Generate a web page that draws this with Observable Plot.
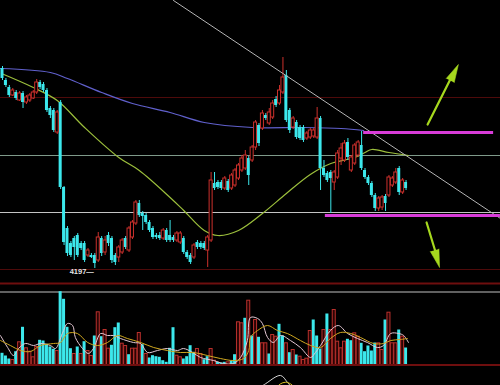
<!DOCTYPE html>
<html>
<head>
<meta charset="utf-8">
<script src="https://cdn.jsdelivr.net/npm/d3@7"></script>
<script src="https://cdn.jsdelivr.net/npm/@observablehq/plot@0.6"></script>
<style>
  html, body { margin: 0; padding: 0; background: #000; }
  #chart { width: 500px; height: 385px; overflow: hidden; background: #000; }
  #chart > div { overflow: hidden; }
  svg { display: block; }
</style>
</head>
<body>
<div id="chart"></div>
<script>
// ---- Candles (OHLC) ----
const open = [
  4397,4385,4378,4370,4373,4365,4372,4363,4365,4367,
  4373,4383,4381,4375,4357,4355,4333,4363,4278,4237,
  4222,4227,4230,4222,4222,4210,4210,4210,4205,4227,
  4213,4230,4227,4210,4208,4213,4227,4215,4228,4242,
  4262,4252,4250,4243,4237,4230,4230,4227,4235,4230,
  4228,4225,4223,4227,4213,4210,4208,4223,4222,4222,
  4215,4225,4282,4283,4283,4277,4284,4277,4280,4287,
  4295,4297,4307,4305,4318,4340,4337,4350,4342,4348,
  4366,4362,4373,4390,4355,4338,4343,4338,4338,4327,
  4328,4329,4328,4347,4297,4292,4293,4283,4288,4307,
  4305,4323,4295,4302,4310,4320,4295,4288,4282,4270,
  4257,4258,4269,4270,4280,4283,4297,4273,4283];
const high = [
  4399,4387,4380,4377,4375,4374,4374,4370,4372,4375,
  4386,4385,4383,4377,4359,4357,4355,4365,4279,4239,
  4224,4229,4232,4224,4224,4217,4212,4212,4233,4229,
  4229,4233,4229,4212,4220,4227,4229,4239,4245,4265,
  4265,4254,4252,4245,4239,4232,4233,4237,4237,4245,
  4230,4234,4234,4229,4215,4212,4222,4225,4224,4224,
  4230,4293,4293,4285,4285,4289,4286,4292,4297,4302,
  4310,4315,4309,4320,4345,4342,4355,4352,4357,4365,
  4369,4380,4408,4395,4357,4349,4345,4340,4340,4334,
  4337,4337,4358,4349,4305,4294,4295,4295,4315,4322,
  4325,4327,4310,4322,4325,4334,4297,4290,4284,4272,
  4269,4270,4271,4290,4289,4297,4299,4287,4285];
const low = [
  4385,4378,4368,4369,4365,4364,4357,4361,4363,4366,
  4371,4376,4373,4353,4347,4333,4331,4276,4220,4209,
  4208,4205,4208,4215,4203,4208,4207,4197,4203,4209,
  4210,4219,4202,4200,4203,4211,4216,4213,4226,4240,
  4248,4235,4241,4233,4226,4226,4225,4225,4223,4223,
  4223,4223,4221,4211,4206,4201,4206,4216,4216,4215,
  4198,4223,4275,4276,4275,4275,4273,4275,4278,4285,
  4293,4295,4280,4303,4315,4319,4335,4345,4340,4346,
  4358,4360,4371,4343,4332,4336,4326,4325,4323,4325,
  4326,4327,4326,4275,4288,4283,4252,4275,4286,4300,
  4303,4305,4293,4300,4308,4295,4286,4280,4268,4254,
  4254,4255,4254,4268,4278,4281,4270,4271,4275];
const close = [
  4387,4380,4370,4375,4367,4372,4363,4368,4370,4373,
  4383,4378,4375,4355,4350,4335,4353,4278,4223,4212,
  4210,4218,4210,4217,4205,4215,4208,4202,4228,4212,
  4225,4222,4205,4203,4218,4225,4218,4237,4243,4263,
  4250,4249,4243,4235,4228,4228,4227,4235,4225,4225,
  4225,4232,4232,4213,4208,4203,4220,4218,4218,4217,
  4228,4285,4277,4278,4277,4287,4275,4290,4295,4300,
  4307,4310,4290,4318,4343,4322,4352,4347,4353,4362,
  4360,4375,4388,4345,4335,4347,4328,4327,4325,4332,
  4335,4335,4347,4297,4290,4285,4287,4293,4312,4317,
  4322,4308,4308,4320,4323,4297,4288,4282,4270,4257,
  4267,4268,4262,4288,4287,4293,4273,4285,4277];

// ---- Price moving averages ----
const longMaIndex = [-0.6, 14, 19, 29, 38, 49, 59, 73, 88, 99, 105.6];
const longMaValue = [4397, 4393, 4387, 4373, 4362, 4353, 4343, 4338, 4338, 4337, 4335];
const midMaIndex = [-0.3, 9, 16, 24, 34, 40, 49, 53, 59, 63, 69, 76, 83, 90, 96, 103, 106, 108, 113, 118.7];
const midMaValue = [4392, 4378, 4365, 4338, 4308, 4295, 4268, 4255, 4235, 4230, 4235, 4252, 4272, 4291, 4302, 4308, 4313, 4316, 4313, 4310];

// ---- Horizontal levels & drawings ----
const darkLevels = [4368, 4196];
const panelBottom = [4182];
const greenLevel = [4310];
const grayLevel = [4253];
const magentaLines = [
  {x1: 105.6, x2: 143.6, y: 4333},
  {x1: 94.4, x2: 145.6, y: 4250}
];
const trendLine = [{i: 50, p: 4465}, {i: 145.6, p: 4247}];
const arrows = [
  {i1: 124.3, p1: 4341, i2: 131.8, p2: 4392},
  {i1: 124.0, p1: 4243, i2: 127.2, p2: 4207}
];
const arrowTips = [
  {i: 133.3, p: 4401, angle: 27},
  {i: 127.8, p: 4198, angle: 164}
];
const lowLabel = [{i: 27, p: 4197, text: "4197\u2014"}];

// ---- Volume ----
const volume = [
  1170,900,600,500,1330,2270,3770,1670,1330,770,
  1800,2470,2400,2070,1800,1570,1400,7330,6570,3770,
  1630,1100,1800,1100,2330,1400,900,2900,5270,2830,
  3500,1630,1970,3730,4200,2130,1900,1030,1630,1630,
  3200,2030,1100,700,930,830,770,430,270,1670,
  3730,930,770,600,830,1930,1270,1600,1100,530,
  830,1600,430,270,200,270,270,400,1030,4270,
  4170,4670,6430,2900,4500,2770,2170,2170,1100,3000,
  2830,4070,2900,2170,1230,1500,1000,830,500,630,
  3400,4500,2900,1600,3500,5100,3500,5500,2330,1670,
  2330,2570,2430,3170,2830,2170,1330,1900,1400,2200,
  2170,1500,4500,5230,2170,2170,3500,2830,1700];
const volumeUp = [
  0,0,0,1,0,1,0,1,1,1,
  1,0,0,0,0,0,1,0,0,0,
  0,1,0,1,0,1,1,0,1,0,
  1,1,0,0,0,1,1,0,1,1,
  1,0,1,0,0,0,0,0,0,0,
  0,1,1,0,0,0,0,1,1,0,
  0,1,1,0,0,0,1,0,0,1,
  1,0,1,0,1,0,1,1,0,1,
  1,0,0,1,0,1,0,1,1,1,
  1,0,0,0,1,0,1,1,1,1,
  1,0,0,1,1,0,0,0,0,0,
  1,1,0,1,1,1,0,1,0];
const volMa5Index = [-0.6,1.5,3.2,4.7,6.7,9.1,11.1,14.0,15.5,17.5,19.0,20.5,21.3,23.4,25.1,26.6,28.7,30.7,32.5,34.5,38.3,40.4,42.4,45.3,48.2,51.2,52.9,55.6,57.9,61.7,64.6,67.5,69.6,71.6,72.5,74.6,76.0,77.5,79.2,81.3,84.2,87.1,90.1,91.5,93.0,95.9,98.2,100.9,103.8,106.7,109.6,111.4,113.5,115.8,117.3,118.7];
const volMa5Value = [2950,1750,950,1650,2150,1950,2150,1950,1650,3150,4150,3950,2750,1650,1150,1650,3150,2950,2950,2650,2250,2150,1250,1450,1650,1450,1650,1250,750,450,150,150,750,2450,4750,4650,4150,2750,2250,2950,2450,1750,750,1250,1950,3450,3950,3150,2650,2250,1750,1950,3150,3150,2950,2250];
const volMa10Index = [-0.6,2.3,5.3,8.2,11.1,14.9,17.0,19.0,21.9,24.9,27.8,30.7,33.6,36.5,40.4,44.2,48.2,52.0,55.8,59.9,63.7,67.5,70.5,72.0,72.5,74.6,77.5,80.4,83.3,87.1,90.1,93.0,95.9,98.8,101.8,104.7,108.5,111.4,113.5,116.4,118.4];
const volMa10Value = [2450,1950,1450,1350,1950,2150,2250,3150,3150,2250,1950,2250,2950,2650,2250,1750,1450,1250,1250,950,650,450,650,1450,2750,3450,3950,3450,3150,2450,1950,1750,2650,3250,3150,2750,2150,2150,2450,2550,2650];
const volumeTop = [7300];

// ---- Lower indicator (partly visible) ----
const indWhiteIndex = [74.9, 76.9, 81.3, 83.3, 84.8];
const indWhiteValue = [-18, 10, 59, 19, -18];
const indYellowIndex = [79.8, 81.3, 82.7, 84.2, 85.7];
const indYellowValue = [-18, 10, 19, 10, -18];

// ---- build tables ----
const candles = open.map((o, i) => ({i, open: o, high: high[i], low: low[i], close: close[i], up: close[i] >= o}));
const upC = candles.filter(d => d.up);
const downC = candles.filter(d => !d.up);
const longMa = longMaIndex.map((x, k) => ({i: x, p: longMaValue[k]}));
const midMa = midMaIndex.map((x, k) => ({i: x, p: midMaValue[k]}));
const vols = volume.map((v, i) => ({i, v, up: volumeUp[i] === 1}));
const vMa5 = volMa5Index.map((x, k) => ({i: x, v: volMa5Value[k]}));
const vMa10 = volMa10Index.map((x, k) => ({i: x, v: volMa10Value[k]}));
const indW = indWhiteIndex.map((x, k) => ({i: x, v: indWhiteValue[k]}));
const indY = indYellowIndex.map((x, k) => ({i: x, v: indYellowValue[k]}));

const CYAN = "#3ce8ec", RED = "#cc302c", DARKRED = "#4e0a0a", ARROW = "#a6d81e";
const half = 0.44;
const xScale = {domain: [-2 / 3.42, 498 / 3.42], axis: null};
const base = {width: 500, marginTop: 0, marginRight: 0, marginBottom: 0, marginLeft: 0,
  style: {background: "#000", overflow: "hidden"}};

const price = Plot.plot({
  ...base, height: 287,
  x: xScale,
  y: {domain: [4178, 4465], axis: null},
  marks: [
    Plot.ruleY(darkLevels, {stroke: DARKRED, strokeWidth: 1}),
    Plot.ruleY(panelBottom, {stroke: "#6e0e0e", strokeWidth: 2}),
    Plot.ruleY(greenLevel, {stroke: "#7f9a8a", strokeWidth: 1}),
    Plot.ruleY(grayLevel, {stroke: "#c4c4c4", strokeWidth: 1}),
    Plot.line(longMa, {x: "i", y: "p", stroke: "#6060cc", strokeWidth: 1.2, curve: "catmull-rom"}),
    Plot.line(midMa, {x: "i", y: "p", stroke: "#9cbf3c", strokeWidth: 1.2, curve: "catmull-rom"}),
    Plot.ruleX(candles, {x: "i", y1: "low", y2: "high", stroke: d => d.up ? RED : CYAN, strokeWidth: 1}),
    Plot.rect(downC, {x1: d => d.i - half, x2: d => d.i + half, y1: "open", y2: "close", fill: CYAN}),
    Plot.rect(upC, {x1: d => d.i - half, x2: d => d.i + half, y1: "open", y2: "close", fill: "#000", stroke: RED, strokeWidth: 1}),
    Plot.line(trendLine, {x: "i", y: "p", stroke: "#b4b4b4", strokeWidth: 1}),
    Plot.ruleY(magentaLines, {y: "y", x1: "x1", x2: "x2", stroke: "#d83cd8", strokeWidth: 3}),
    Plot.arrow(arrows, {x1: "i1", y1: "p1", x2: "i2", y2: "p2", stroke: ARROW, strokeWidth: 2.2, headLength: 0}),
    Plot.vector(arrowTips, {x: "i", y: "p", rotate: "angle", length: 18, r: 4.5, shape: "spike", anchor: "end",
      fill: ARROW, stroke: ARROW, strokeWidth: 0.5}),
    Plot.text(lowLabel, {x: "i", y: "p", text: "text", fill: "#e6e6e6", textAnchor: "end", dx: -1, dy: 3,
      fontSize: 7.5, fontWeight: "bold", fontFamily: "Liberation Sans, Arial, sans-serif"})
  ]
});

const vol = Plot.plot({
  ...base, height: 81,
  x: xScale,
  y: {domain: [0, 7300], range: [77.5, 4.5], axis: null},
  marks: [
    Plot.ruleY(volumeTop, {stroke: "#c0c0c0", strokeWidth: 1}),
    Plot.rect(vols.filter(d => !d.up), {x1: d => d.i - half, x2: d => d.i + half, y1: 0, y2: "v", fill: CYAN}),
    Plot.rect(vols.filter(d => d.up), {x1: d => d.i - half, x2: d => d.i + half, y1: 0, y2: "v", fill: "#2a0404", stroke: "#b8302c", strokeWidth: 1}),
    Plot.line(vMa5, {x: "i", y: "v", stroke: "#e4c8d4", strokeWidth: 1, curve: "catmull-rom"}),
    Plot.line(vMa10, {x: "i", y: "v", stroke: "#d0a820", strokeWidth: 1, curve: "catmull-rom"}),
    Plot.ruleY([0], {stroke: "#6e0e0e", strokeWidth: 2})
  ]
});

const ind = Plot.plot({
  ...base, height: 17,
  x: xScale,
  y: {domain: [0, 100], axis: null},
  marks: [
    Plot.line(indW, {x: "i", y: "v", stroke: "#d8d8d8", strokeWidth: 1, curve: "catmull-rom"}),
    Plot.line(indY, {x: "i", y: "v", stroke: "#d8c020", strokeWidth: 1, curve: "catmull-rom"})
  ]
});

const root = document.getElementById("chart");
[[price, 287], [vol, 81], [ind, 17]].forEach(([svg, h]) => {
  const d = document.createElement("div");
  d.style.height = h + "px";
  d.appendChild(svg);
  root.appendChild(d);
});
</script>
</body>
</html>
